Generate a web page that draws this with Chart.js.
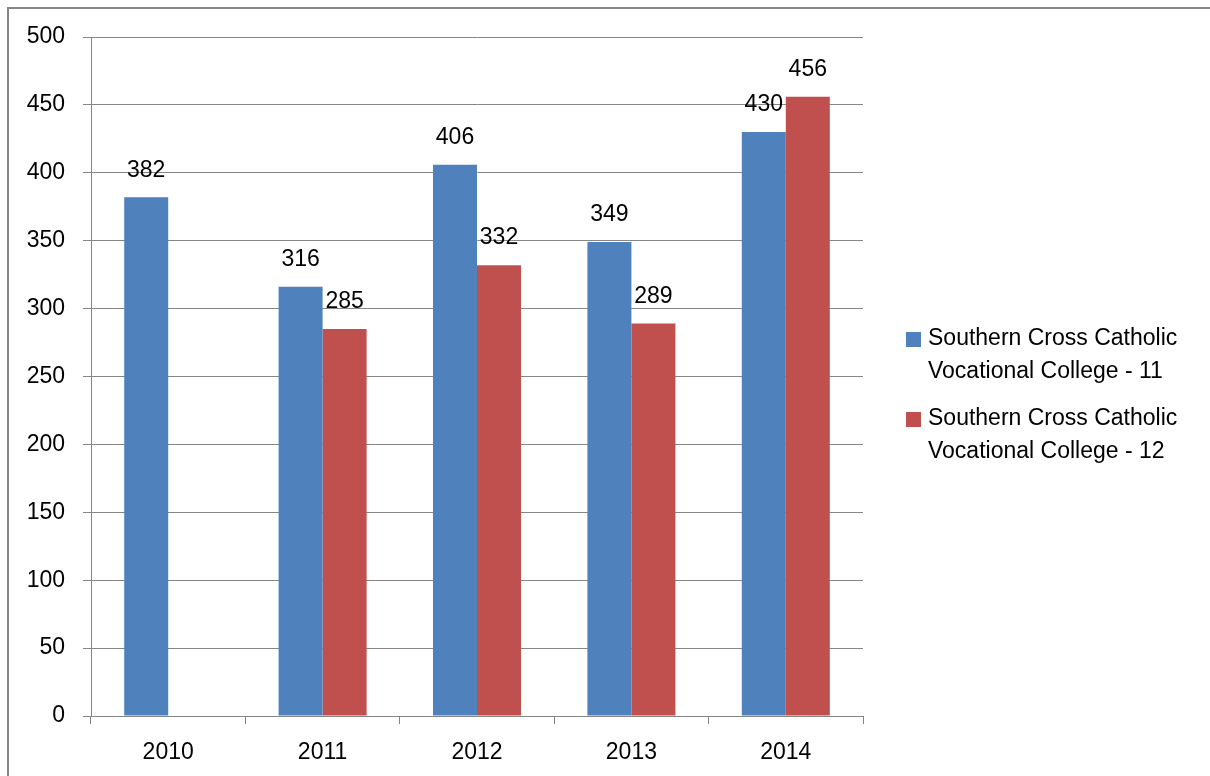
<!DOCTYPE html>
<html>
<head>
<meta charset="utf-8">
<script src="https://cdn.jsdelivr.net/npm/chart.js@4"></script>
<style>
	body { margin: 0; background: #fff; }
	#wrap { position: relative; width: 1210px; height: 776px; }
</style>
</head>
<body>
<div id="wrap"><canvas id="myChart" width="1210" height="776"></canvas></div>
<script>
const 	years = ['2010', '2011', '2012', '2013', '2014'],
		year11 = [382, 316, 406, 349, 430],
		year12 = [null, 285, 332, 289, 456],
		seriesNames = [
			['Southern Cross Catholic', 'Vocational College - 11'],
			['Southern Cross Catholic', 'Vocational College - 12']
		],
		yTicks = [0, 50, 100, 150, 200, 250, 300, 350, 400, 450, 500];

const 	FONT = '"Liberation Sans", Arial, sans-serif',
		FONT_SIZE = 23,
		GRID = '#868686';

// outer frame (only top and left edges are visible in the picture)
const framePlugin = {
	id: 'frame',
	beforeDraw(chart){
		const ctx = chart.ctx;
		ctx.save();
		ctx.fillStyle = '#fff';
		ctx.fillRect(0, 0, chart.width, chart.height);
		ctx.strokeStyle = GRID;
		ctx.lineWidth = 2;
		ctx.beginPath();
		ctx.moveTo(8, chart.height);
		ctx.lineTo(8, 8);
		ctx.lineTo(chart.width, 8);
		ctx.stroke();
		ctx.restore();
	}
}

// value labels above each bar
const labelPlugin = {
	id: 'barLabels',
	afterDatasetsDraw(chart){
		const ctx = chart.ctx;
		ctx.save();
		ctx.font = FONT_SIZE + 'px ' + FONT;
		ctx.fillStyle = '#000';
		ctx.textAlign = 'center';
		ctx.textBaseline = 'middle';
		chart.data.datasets.forEach((ds, i)=>{
			chart.getDatasetMeta(i).data.forEach((bar, j)=>{
				if(ds.data[j] === null) return;
				ctx.fillText(ds.data[j], bar.x, bar.y - 27);
			})
		})
		ctx.restore();
	}
}

// legend on the right, two-line labels
const legendPlugin = {
	id: 'sideLegend',
	afterDraw(chart){
		const ctx = chart.ctx;
		ctx.save();
		ctx.font = FONT_SIZE + 'px ' + FONT;
		ctx.textAlign = 'left';
		ctx.textBaseline = 'middle';
		chart.data.datasets.forEach((ds, i)=>{
			let top = 339 + i * 80;
			ctx.fillStyle = ds.backgroundColor;
			ctx.fillRect(906, top - 7, 15, 15);
			ctx.fillStyle = '#000';
			seriesNames[i].forEach((line, k)=>{
				ctx.fillText(line, 928, top + k * 33);
			})
		})
		ctx.restore();
	}
}

const ctx = document.getElementById('myChart');
const myChart = new Chart(ctx, {
	type: 'bar',
	data: {
		labels: years,
		datasets: [
			{
				label: seriesNames[0].join(' '),
				backgroundColor: '#4F81BD',
				data: year11
			},{
				label: seriesNames[1].join(' '),
				backgroundColor: '#C0504D',
				data: year12
			}
		]
	},
	options: {
		responsive: false,
		animation: false,
		layout: { padding: { left: 0, top: 37, right: 347, bottom: 0 } },
		plugins: {
			legend: { display: false },
			tooltip: { enabled: false }
		},
		datasets: {
			bar: { barPercentage: 1, categoryPercentage: 0.57 }
		},
		scales: {
			x: {
				grid: {
					offset: true,
					drawOnChartArea: false,
					drawTicks: true,
					tickLength: 8,
					color: GRID
				},
				border: { color: GRID, width: 1 },
				ticks: {
					color: '#000',
					font: { family: FONT, size: FONT_SIZE },
					padding: 15
				},
				afterFit(s){ s.height = 60; }
			},
			y: {
				min: 0,
				max: 500,
				afterBuildTicks(s){ s.ticks = yTicks.map(v => ({ value: v })); },
				grid: {
					color: GRID,
					tickLength: 8
				},
				border: { color: GRID, width: 1 },
				ticks: {
					color: '#000',
					font: { family: FONT, size: FONT_SIZE },
					padding: 18
				},
				afterFit(s){ s.width = 91; }
			}
		}
	},
	plugins: [framePlugin, labelPlugin, legendPlugin]
});
</script>
</body>
</html>
